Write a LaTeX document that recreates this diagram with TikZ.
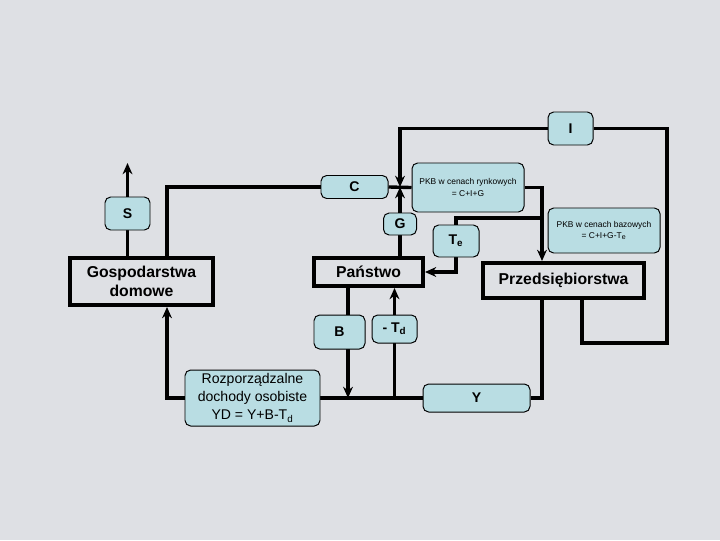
\documentclass[tikz,border=0pt]{standalone}
\usepackage{fontspec}
\setmainfont{Liberation Sans}
\usetikzlibrary{arrows.meta, backgrounds}
\definecolor{marble}{RGB}{222, 224, 228}
\definecolor{valuefill}{RGB}{185, 221, 227}
\tikzset{
  boxsize/.style 2 args={minimum width=#1*0.025cm, minimum height=#2*0.025cm},
  valueblock/.style={
    rectangle, rounded corners=4pt, draw=black, line width=0.7pt,
    fill=valuefill, inner sep=0pt, align=center,
    font=\fontsize{10}{12}\selectfont\bfseries
  },
  pkbblock/.style={valueblock, font=\fontsize{6}{8}\selectfont},
  incomeblock/.style={valueblock, font=\fontsize{10}{12.8}\selectfont},
  sectorblock/.style={
    rectangle, draw=black, line width=2.8pt, fill=marble,
    inner sep=0pt, align=center,
    font=\fontsize{11.2}{13.5}\selectfont\bfseries
  },
  flowline/.style={
    draw=black, line width=2.4pt, -{Stealth[length=8pt, width=7pt]}
  },
  plainline/.style={draw=black, line width=2.4pt}
}

\begin{document}
\begin{tikzpicture}[x=0.025cm, y=-0.025cm]
  \useasboundingbox (0,0) rectangle (720,540);

  % Sectors
  \node[sectorblock, boxsize={143}{47}] (gosp) at (141.5,281.5) {Gospodarstwa\\domowe};
  \node[sectorblock, boxsize={109}{28}] (pans) at (368.5,272) {Państwo};
  \node[sectorblock, boxsize={161}{35}] (przeds) at (563.5,280.5) {Przedsiębiorstwa};

  % Flows
  \node[valueblock, boxsize={45}{33}] (inv) at (570.5,128.5) {I};
  \node[valueblock, boxsize={67}{23}] (cons) at (354.5,187) {C};
  \node[valueblock, boxsize={45}{33}] (sav) at (127.5,213.5) {S};
  \node[valueblock, boxsize={33}{22}] (gov) at (400,224) {G};
  \node[valueblock, boxsize={46}{32}] (taxe) at (456,241) {T\textsubscript{e}};
  \node[valueblock, boxsize={51}{34}] (transf) at (339.5,332) {B};
  \node[valueblock, boxsize={45}{28}] (taxd) at (394.5,329) {- T\textsubscript{d}};
  \node[valueblock, boxsize={107}{28}] (income) at (476.5,398) {Y};

  % GDP and disposable income
  \node[pkbblock, boxsize={112}{49}] (gdpmarket) at (468,187.5) {PKB w cenach rynkowych\\= C+I+G};
  \node[pkbblock, boxsize={112}{45}] (gdpbase) at (604,230.5) {PKB w cenach bazowych\\= C+I+G-T\textsubscript{e}};
  \node[incomeblock, boxsize={135}{56}] (dispinc) at (252.5,398) {Rozporządzalne\\dochody osobiste\\YD = Y+B-T\textsubscript{d}};

  % helper points for the connectors
  \coordinate (jn) at (400,187);
  \coordinate (cx) at (167,0);
  \coordinate (bx) at (348,0);
  \coordinate (rx) at (542,0);
  \coordinate (ix) at (582,0);
  \coordinate (tb) at (542,218);
  \coordinate (corner) at (667,343);
  \coordinate (sout) at (127.5,163);

  \begin{scope}[on background layer]
    \fill[marble] (0,0) rectangle (720,540);

    \draw[plainline] (gosp.north -| cx) |- (cons.west);
    \draw[plainline] (cons.east) -- (gdpmarket.west);
    \draw[flowline] (inv.west) -| (jn);
    \draw[flowline] (pans.north -| gov) -- (jn);
    \draw[flowline] (gosp.north -| sav) -- (sout);

    \draw[flowline] (gdpmarket.east) -| (przeds.north -| rx);
    \draw[plainline] (tb) -| (taxe.north);
    \draw[flowline] (taxe.south) |- (pans.east);

    \draw[flowline] (pans.south -| bx) -- (bx |- income.west);
    \draw[flowline] (taxd |- income.west) -- (pans.south -| taxd);
    \draw[flowline] (income.west) -| (gosp.south -| cx);
    \draw[plainline] (income.east) -| (przeds.south -| rx);
    \draw[plainline] (przeds.south -| ix) |- (corner) |- (inv.east);
  \end{scope}

\end{tikzpicture}
\end{document}
